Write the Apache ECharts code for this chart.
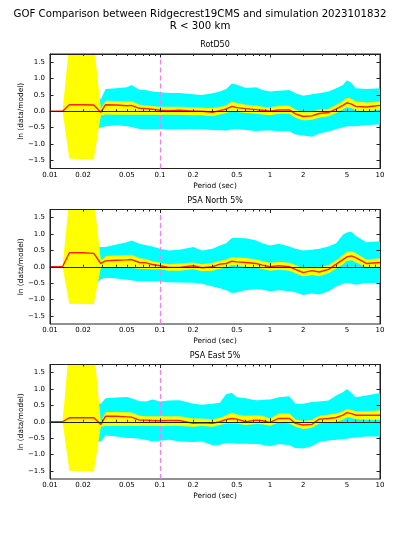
<!DOCTYPE html>
<html>
<head>
<meta charset="utf-8">
<script src="https://cdn.jsdelivr.net/npm/echarts@6/dist/echarts.min.js"></script>
<style>html,body{margin:0;padding:0;background:#fff}#c{width:400px;height:533px}</style>
</head>
<body>
<div id="c"></div>
<script>
// ---- data ----
const periods = [0.01, 0.013, 0.015, 0.02, 0.025, 0.029, 0.032, 0.04, 0.05, 0.055, 0.065, 0.075, 0.085, 0.1, 0.12, 0.15, 0.2, 0.24, 0.3, 0.35, 0.4, 0.45, 0.5, 0.6, 0.75, 0.85, 1.0, 1.2, 1.5, 1.7, 2.0, 2.4, 2.8, 3.4, 4.0, 4.6, 5.0, 5.5, 6.0, 7.5, 10];

const panelTitles = ['RotD50', 'PSA North 5%', 'PSA East 5%'];

const rotd50Bias   = [0, 0, 0.2, 0.2, 0.19, -0.03, 0.2, 0.19, 0.17, 0.18, 0.09, 0.08, 0.06, 0.03, 0.02, 0.03, 0.0, 0.0, -0.03, 0.02, 0.07, 0.15, 0.11, 0.08, 0.05, 0.03, 0.0, 0.04, 0.04, -0.08, -0.16, -0.14, -0.07, -0.04, 0.07, 0.18, 0.26, 0.22, 0.15, 0.13, 0.18];
const rotd50StdHi  = [0, 0, 0.6, 0.6, 0.6, 0.37, 0.68, 0.7, 0.73, 0.8, 0.66, 0.64, 0.6, 0.58, 0.56, 0.56, 0.52, 0.5, 0.55, 0.6, 0.68, 0.85, 0.81, 0.71, 0.73, 0.65, 0.6, 0.63, 0.65, 0.55, 0.47, 0.52, 0.55, 0.6, 0.7, 0.8, 0.95, 0.86, 0.7, 0.68, 0.7];
const rotd50StdLo  = [0, 0, -0.6, -0.6, -0.6, -0.5, -0.46, -0.43, -0.46, -0.48, -0.54, -0.54, -0.54, -0.54, -0.56, -0.55, -0.54, -0.55, -0.57, -0.58, -0.59, -0.56, -0.54, -0.57, -0.6, -0.59, -0.59, -0.61, -0.61, -0.71, -0.74, -0.78, -0.68, -0.62, -0.54, -0.5, -0.46, -0.46, -0.46, -0.43, -0.4];
const rotd50CiHi   = [0, 0, 2.1, 2.1, 2.1, 0.08, 0.32, 0.31, 0.3, 0.31, 0.2, 0.18, 0.16, 0.14, 0.14, 0.14, 0.12, 0.11, 0.1, 0.14, 0.18, 0.3, 0.25, 0.2, 0.18, 0.14, 0.12, 0.17, 0.17, 0.05, -0.03, -0.02, 0.06, 0.08, 0.2, 0.32, 0.42, 0.38, 0.3, 0.27, 0.3];
const rotd50CiLo   = [0, 0, -1.45, -1.46, -1.47, -0.14, -0.1, -0.11, -0.11, -0.11, -0.11, -0.11, -0.11, -0.11, -0.11, -0.11, -0.12, -0.12, -0.15, -0.1, -0.05, 0.0, -0.02, -0.05, -0.08, -0.1, -0.12, -0.08, -0.08, -0.2, -0.28, -0.26, -0.2, -0.15, -0.05, 0.05, 0.12, 0.1, 0.02, 0.0, 0.05];

const northBias    = [0, 0, 0.43, 0.43, 0.41, 0.1, 0.18, 0.2, 0.21, 0.22, 0.13, 0.12, 0.07, 0.03, -0.02, -0.02, 0.03, -0.03, 0.0, 0.08, 0.1, 0.17, 0.15, 0.13, 0.1, 0.05, 0.0, 0.03, 0.0, -0.08, -0.18, -0.12, -0.16, -0.08, 0.08, 0.22, 0.3, 0.33, 0.28, 0.1, 0.13];
const northStdHi   = [0, 0, 0.6, 0.6, 0.6, 0.6, 0.6, 0.68, 0.75, 0.8, 0.7, 0.66, 0.62, 0.55, 0.5, 0.52, 0.6, 0.5, 0.55, 0.65, 0.72, 0.88, 0.88, 0.87, 0.8, 0.72, 0.65, 0.7, 0.62, 0.55, 0.5, 0.52, 0.55, 0.62, 0.72, 0.98, 1.05, 1.07, 0.95, 0.75, 0.78];
const northStdLo   = [0, 0, -0.6, -0.6, -0.6, -0.38, -0.34, -0.36, -0.4, -0.42, -0.44, -0.45, -0.45, -0.45, -0.47, -0.48, -0.49, -0.52, -0.6, -0.66, -0.72, -0.8, -0.78, -0.72, -0.68, -0.7, -0.75, -0.72, -0.75, -0.78, -0.86, -0.82, -0.85, -0.75, -0.6, -0.52, -0.5, -0.52, -0.55, -0.5, -0.5];
const northCiHi    = [0, 0, 2.1, 2.1, 2.1, 0.2, 0.33, 0.35, 0.36, 0.37, 0.26, 0.24, 0.17, 0.12, 0.08, 0.1, 0.13, 0.08, 0.12, 0.18, 0.22, 0.3, 0.28, 0.27, 0.22, 0.17, 0.12, 0.15, 0.12, 0.05, -0.05, 0.0, -0.03, 0.05, 0.2, 0.37, 0.45, 0.47, 0.42, 0.22, 0.26];
const northCiLo    = [0, 0, -1.13, -1.14, -1.15, -0.03, -0.02, -0.03, -0.04, -0.04, -0.06, -0.07, -0.08, -0.08, -0.12, -0.12, -0.08, -0.14, -0.12, -0.06, -0.02, 0.05, 0.03, 0.0, -0.03, -0.07, -0.12, -0.09, -0.12, -0.2, -0.3, -0.25, -0.29, -0.2, -0.05, 0.08, 0.18, 0.2, 0.14, -0.02, 0.0];

const eastBias     = [0, 0, 0.12, 0.12, 0.12, -0.08, 0.17, 0.17, 0.15, 0.14, 0.05, 0.05, 0.04, 0.03, 0.04, 0.04, -0.05, -0.03, -0.05, 0.0, 0.07, 0.1, 0.08, 0.0, 0.05, 0.03, -0.02, 0.1, 0.1, -0.05, -0.1, -0.08, 0.08, 0.1, 0.13, 0.2, 0.28, 0.25, 0.2, 0.2, 0.2];
const eastStdHi    = [0, 0, 0.6, 0.6, 0.6, 0.55, 0.72, 0.74, 0.76, 0.72, 0.63, 0.62, 0.68, 0.62, 0.65, 0.66, 0.55, 0.52, 0.55, 0.58, 0.85, 0.88, 0.75, 0.72, 0.65, 0.67, 0.68, 0.75, 0.78, 0.55, 0.55, 0.6, 0.62, 0.65, 0.8, 0.9, 1.0, 0.88, 0.75, 0.8, 0.88];
const eastStdLo    = [0, 0, -0.6, -0.6, -0.6, -0.6, -0.42, -0.45, -0.5, -0.5, -0.52, -0.56, -0.6, -0.58, -0.55, -0.6, -0.62, -0.6, -0.72, -0.7, -0.65, -0.66, -0.67, -0.67, -0.68, -0.7, -0.75, -0.68, -0.72, -0.8, -0.82, -0.75, -0.62, -0.57, -0.55, -0.53, -0.52, -0.5, -0.48, -0.45, -0.45];
const eastCiHi     = [0, 0, 2.3, 2.3, 2.3, 0.0, 0.3, 0.3, 0.29, 0.28, 0.18, 0.17, 0.17, 0.17, 0.17, 0.17, 0.1, 0.1, 0.08, 0.12, 0.2, 0.28, 0.22, 0.18, 0.2, 0.18, 0.1, 0.25, 0.25, 0.07, 0.03, 0.05, 0.18, 0.22, 0.25, 0.32, 0.4, 0.37, 0.32, 0.32, 0.35];
const eastCiLo     = [0, 0, -1.5, -1.52, -1.53, -0.15, -0.13, -0.13, -0.13, -0.13, -0.13, -0.13, -0.13, -0.13, -0.13, -0.13, -0.15, -0.13, -0.15, -0.1, -0.05, -0.05, -0.06, -0.1, -0.07, -0.08, -0.12, -0.02, -0.05, -0.15, -0.22, -0.18, -0.05, -0.02, 0.0, 0.06, 0.14, 0.12, 0.08, 0.06, 0.05];

const xTickLabels = [0.01, 0.02, 0.05, 0.1, 0.2, 0.5, 1, 2, 5, 10];
const xMajorTicks = [0.01, 0.1, 1, 10];
const xMinorTicks = [0.02, 0.03, 0.04, 0.05, 0.06, 0.07, 0.08, 0.09, 0.2, 0.3, 0.4, 0.5, 0.6, 0.7, 0.8, 0.9, 2, 3, 4, 5, 6, 7, 8, 9];
const yTicks = [-1.5, -1.0, -0.5, 0.0, 0.5, 1.0, 1.5];
const refPeriod = 0.1;

// ---- chart ----
const FONT = 'DejaVu Sans';
const panels = [
  {bias: rotd50Bias, sHi: rotd50StdHi, sLo: rotd50StdLo, cHi: rotd50CiHi, cLo: rotd50CiLo},
  {bias: northBias,  sHi: northStdHi,  sLo: northStdLo,  cHi: northCiHi,  cLo: northCiLo},
  {bias: eastBias,   sHi: eastStdHi,   sLo: eastStdLo,   cHi: eastCiHi,   cLo: eastCiLo}
];
const gridTops = [54, 209.5, 364.5];
const GH = 114.5, GL = 50, GW = 330;

const xFmt = v => {
  const t = xTickLabels.find(t => Math.abs(Math.log10(t) - Math.log10(v)) < 1e-6);
  return t === undefined ? '' : String(t);
};
const yFmt = v => (v < -1e-9 ? '\u2212' : '') + Math.abs(v).toFixed(1);

const grids = [], xAxes = [], yAxes = [], series = [], titles = [];
titles.push({
  text: 'GOF Comparison between Ridgecrest19CMS and simulation 2023101832\nR < 300 km',
  left: 'center', top: 8, padding: 0,
  textStyle: {fontFamily: FONT, fontSize: 10.2, fontWeight: 'normal', color: '#000', lineHeight: 12.5}
});

panels.forEach((p, i) => {
  grids.push({left: GL, top: gridTops[i], width: GW, height: GH, show: true, borderColor: '#222', borderWidth: 1, backgroundColor: 'transparent'});
  titles.push({
    text: panelTitles[i], left: GL + GW / 2, top: gridTops[i] - 13, textAlign: 'center', padding: 0,
    textStyle: {fontFamily: FONT, fontSize: 8, fontWeight: 'normal', color: '#000'}
  });
  const baseX = {type: 'log', logBase: 10, min: 0.01, max: 10, gridIndex: i, z: 10, splitLine: {show: false}, minorTick: {show: false}};
  xAxes.push(Object.assign({}, baseX, {
    position: 'bottom',
    axisLine: {show: true, lineStyle: {color: '#222', width: 1}},
    axisTick: {show: true, inside: true, length: 3.5, customValues: xMajorTicks, lineStyle: {color: '#222'}},
    axisLabel: {show: true, customValues: xTickLabels, formatter: xFmt, fontFamily: FONT, fontSize: 7, color: '#000', margin: 3},
    name: 'Period (sec)', nameLocation: 'middle', nameGap: 14, nameMoveOverlap: false,
    nameTextStyle: {fontFamily: FONT, fontSize: 7.4, color: '#000'}
  }));
  xAxes.push(Object.assign({}, baseX, {
    position: 'bottom', axisLine: {show: false},
    axisTick: {show: true, inside: true, length: 2, customValues: xMinorTicks, lineStyle: {color: '#222'}},
    axisLabel: {show: false}
  }));
  xAxes.push(Object.assign({}, baseX, {
    position: 'top', axisLine: {show: true, lineStyle: {color: '#222', width: 1}},
    axisTick: {show: true, inside: true, length: 3.5, customValues: xMajorTicks, lineStyle: {color: '#222'}},
    axisLabel: {show: false}
  }));
  xAxes.push(Object.assign({}, baseX, {
    position: 'top', axisLine: {show: false},
    axisTick: {show: true, inside: true, length: 2, customValues: xMinorTicks, lineStyle: {color: '#222'}},
    axisLabel: {show: false}
  }));
  const baseY = {type: 'value', min: -1.75, max: 1.75, gridIndex: i, z: 10, splitLine: {show: false}};
  yAxes.push(Object.assign({}, baseY, {
    position: 'left',
    axisLine: {show: true, lineStyle: {color: '#222', width: 1}},
    axisTick: {show: true, inside: true, length: 3.5, customValues: yTicks, lineStyle: {color: '#222'}},
    axisLabel: {show: true, customValues: yTicks, formatter: yFmt, fontFamily: FONT, fontSize: 7, color: '#000', margin: 5},
    name: 'ln (data/model)', nameLocation: 'middle', nameGap: 25.3, nameMoveOverlap: false,
    nameTextStyle: {fontFamily: FONT, fontSize: 7.4, color: '#000'}
  }));
  yAxes.push(Object.assign({}, baseY, {
    position: 'right',
    axisLine: {show: true, lineStyle: {color: '#222', width: 1}},
    axisTick: {show: true, inside: true, length: 3.5, customValues: yTicks, lineStyle: {color: '#222'}},
    axisLabel: {show: false}
  }));

  const xi = i * 4, yi = i * 2;
  // value first, period second, so that the stack runs on the y (value) dimension
  const common = {type: 'line', xAxisIndex: xi, yAxisIndex: yi, symbol: 'none', silent: true, animation: false,
                  stackStrategy: 'all', encode: {x: 1, y: 0}};
  series.push(Object.assign({}, common, {
    stack: 'std' + i, z: 1,
    data: periods.map((x, k) => [p.sLo[k], x]),
    lineStyle: {opacity: 0, width: 0}
  }));
  series.push(Object.assign({}, common, {
    stack: 'std' + i, z: 1,
    data: periods.map((x, k) => [p.sHi[k] - p.sLo[k], x]),
    lineStyle: {opacity: 0, width: 0},
    areaStyle: {color: '#00ffff', opacity: 1}
  }));
  series.push(Object.assign({}, common, {
    stack: 'ci' + i, z: 2,
    data: periods.map((x, k) => [p.cLo[k], x]),
    lineStyle: {opacity: 0, width: 0}
  }));
  series.push(Object.assign({}, common, {
    stack: 'ci' + i, z: 2,
    data: periods.map((x, k) => [p.cHi[k] - p.cLo[k], x]),
    lineStyle: {opacity: 0, width: 0},
    areaStyle: {color: '#ffff00', opacity: 1},
    markLine: {
      silent: true, symbol: 'none', animation: false, label: {show: false}, z: 3,
      data: [
        {yAxis: 0, lineStyle: {color: '#8c8c8c', width: 1, type: 'solid'}},
        {xAxis: refPeriod, lineStyle: {color: '#f27ff2', width: 1.2, type: [5, 3]}}
      ]
    }
  }));
  series.push({
    type: 'line', xAxisIndex: xi, yAxisIndex: yi, symbol: 'none', silent: true, animation: false, z: 8,
    data: periods.map((x, k) => [x, p.bias[k]]),
    lineStyle: {color: '#ff2200', width: 1.4}
  });
});

const chart = echarts.init(document.getElementById('c'), null, {renderer: 'canvas'});
chart.setOption({
  animation: false,
  backgroundColor: '#ffffff',
  title: titles,
  grid: grids,
  xAxis: xAxes,
  yAxis: yAxes,
  series: series
});
</script>
</body>
</html>
